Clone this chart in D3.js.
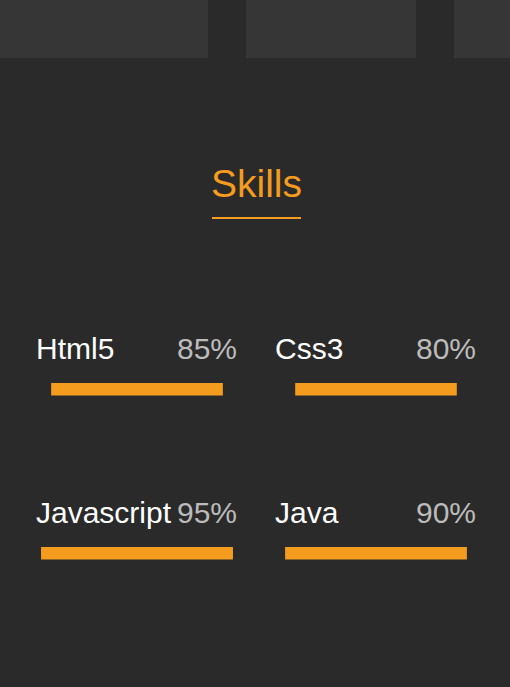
<!DOCTYPE html>
<html><head><meta charset="utf-8">
<script src="https://cdn.jsdelivr.net/npm/d3@7"></script>
<style>
html,body{margin:0;padding:0;background:#2a2a2a;overflow:hidden;}
svg{display:block;}
</style></head>
<body>
<svg id="c" width="510" height="687"></svg>
<script>
const skills = ["Html5", "Css3", "Javascript", "Java"];
const percents = [85, 80, 95, 90];
const title = "Skills";
const topBoxes = [[0, 208], [246, 416], [454, 510]];

const svg = d3.select("#c");
svg.append("rect").attr("width", 510).attr("height", 687).attr("fill", "#2a2a2a");

svg.selectAll("rect.top").data(topBoxes).join("rect")
  .attr("class", "top")
  .attr("x", d => d[0]).attr("y", 0)
  .attr("width", d => d[1] - d[0]).attr("height", 58)
  .attr("fill", "#363636");

svg.append("text").attr("x", 256.5).attr("y", 197)
  .attr("text-anchor", "middle")
  .attr("font-family", "Liberation Sans, Arial, sans-serif")
  .attr("font-size", 39).attr("fill", "#f39c1e").text(title);
svg.append("rect").attr("x", 212).attr("y", 217).attr("width", 89).attr("height", 2).attr("fill", "#f39c1e");

const colW = 202;
const x = d3.scaleLinear().domain([0, 100]).range([0, colW]);
const colX = d3.scaleOrdinal().domain([0, 1]).range([36, 275]);
const rowY = d3.scaleOrdinal().domain([0, 1]).range([359, 523]);

const data = skills.map((s, i) => ({ name: s, value: percents[i], col: i % 2, row: Math.floor(i / 2) }));

const g = svg.selectAll("g.skill").data(data).join("g")
  .attr("class", "skill")
  .attr("transform", d => `translate(${colX(d.col)},${rowY(d.row)})`);

g.append("text").attr("x", 0).attr("y", 0)
  .attr("font-family", "Liberation Sans, Arial, sans-serif")
  .attr("font-size", 30).attr("fill", "#ffffff").text(d => d.name);

g.append("text").attr("x", colW - 1).attr("y", 0).attr("text-anchor", "end")
  .attr("font-family", "Liberation Sans, Arial, sans-serif")
  .attr("font-size", 30).attr("fill", "#bbbbbb").text(d => d.value + "%");

g.append("rect")
  .attr("x", d => (colW - x(d.value)) / 2)
  .attr("y", 24)
  .attr("width", d => x(d.value))
  .attr("height", 12.5)
  .attr("fill", "#f39c1e");
</script>
</body></html>
